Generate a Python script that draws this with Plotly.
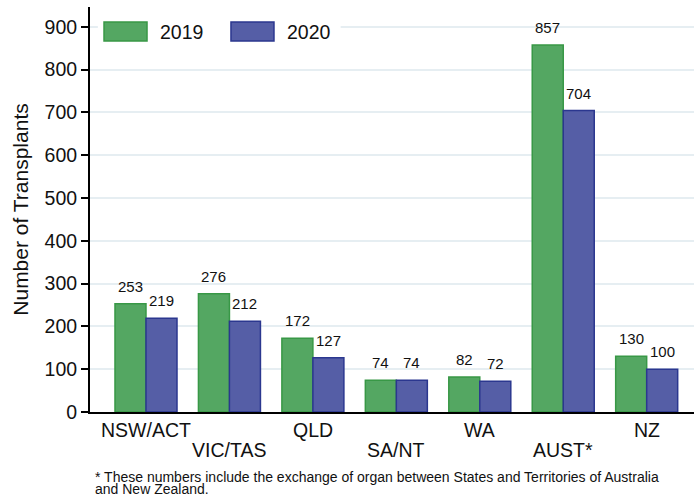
import plotly.graph_objects as go

categories = ["NSW/ACT", "VIC/TAS", "QLD", "SA/NT", "WA", "AUST*", "NZ"]
label_row = [0, 1, 0, 1, 0, 1, 0]  # staggered category labels: 0 = upper row, 1 = lower row
values_2019 = [253, 276, 172, 74, 82, 857, 130]
values_2020 = [219, 212, 127, 74, 72, 704, 100]
series_names = ["2019", "2020"]
footnote_lines = [
    "* These numbers include the exchange of organ between States and Territories of Australia",
    "and New Zealand.",
]

FONT = "Liberation Sans, Arial, sans-serif"
GREEN_FILL, GREEN_LINE = "#54a762", "#389846"
BLUE_FILL, BLUE_LINE = "#555ea6", "#2b378f"
BARGAP = 0.257
half_w = (1 - BARGAP) / 4  # offset from category centre to each bar centre

fig = go.Figure()
fig.add_trace(go.Bar(x=categories, y=values_2019, name=series_names[0],
                     marker=dict(color=GREEN_FILL, line=dict(color=GREEN_LINE, width=1.5)),
                     showlegend=False))
fig.add_trace(go.Bar(x=categories, y=values_2020, name=series_names[1],
                     marker=dict(color=BLUE_FILL, line=dict(color=BLUE_LINE, width=1.5)),
                     showlegend=False))

annotations = []
for i, (a, b) in enumerate(zip(values_2019, values_2020)):
    for val, off in ((a, -half_w), (b, half_w)):
        annotations.append(dict(x=i + off, y=val, xref="x", yref="y", text=str(val),
                                showarrow=False, yanchor="bottom", yshift=7,
                                font=dict(family=FONT, size=15, color="#111")))

# staggered category labels under the x axis
for i, (cat, row) in enumerate(zip(categories, label_row)):
    annotations.append(dict(x=i, y=0, xref="x", yref="y", text=cat, showarrow=False,
                            yanchor="top", yshift=-5 - 20 * row,
                            font=dict(family=FONT, size=19.5, color="#111")))

for k, line in enumerate(footnote_lines):
    annotations.append(dict(x=0.005, y=-0.137 - 0.028 * k, xref="paper", yref="paper",
                            text=line, showarrow=False, xanchor="left", yanchor="top",
                            font=dict(family=FONT, size=14, color="#111")))

# custom legend (large swatches)
shapes = [dict(type="rect", xref="paper", yref="paper", x0=0.013, x1=0.415, y0=0.89, y1=0.985,
               fillcolor="white", line=dict(width=0), layer="above")]
legend_items = [(series_names[0], GREEN_FILL, GREEN_LINE, 0.0232),
                (series_names[1], BLUE_FILL, BLUE_LINE, 0.2334)]
for name, fill, edge, x0 in legend_items:
    shapes.append(dict(type="rect", xref="paper", yref="paper", x0=x0, x1=x0 + 0.0712,
                       y0=0.916, y1=0.963, fillcolor=fill, line=dict(color=edge, width=1.5),
                       layer="above"))
    annotations.append(dict(x=x0 + 0.0894, y=0.9395, xref="paper", yref="paper", text=name,
                            showarrow=False, xanchor="left", yanchor="middle",
                            font=dict(family=FONT, size=19.5, color="#111")))

fig.update_layout(
    width=694, height=496,
    margin=dict(l=90, r=0, t=7, b=84),
    paper_bgcolor="white", plot_bgcolor="white",
    barmode="group", bargap=BARGAP, bargroupgap=0,
    font=dict(family=FONT, size=19.5, color="#111"),
    annotations=annotations, shapes=shapes,
)
fig.update_xaxes(type="category", range=[-0.671, 6.567], showline=True, linecolor="black",
                 linewidth=2, ticks="", showgrid=False, showticklabels=False,
                 automargin=False)
fig.update_yaxes(range=[0, 946], tickvals=[0, 100, 200, 300, 400, 500, 600, 700, 800, 900],
                 showline=True, linecolor="black", linewidth=2, ticks="outside", ticklen=7,
                 tickwidth=1.5, tickcolor="black", showgrid=True, gridcolor="#e6eef2",
                 gridwidth=2, zeroline=False, tickfont=dict(size=19.5), automargin=False,
                 title=dict(text="Number of Transplants", font=dict(size=21), standoff=10))

fig.write_html("out.html", config={"displayModeBar": False},
               post_script="document.body.style.margin='0';document.body.style.overflow='hidden';")
